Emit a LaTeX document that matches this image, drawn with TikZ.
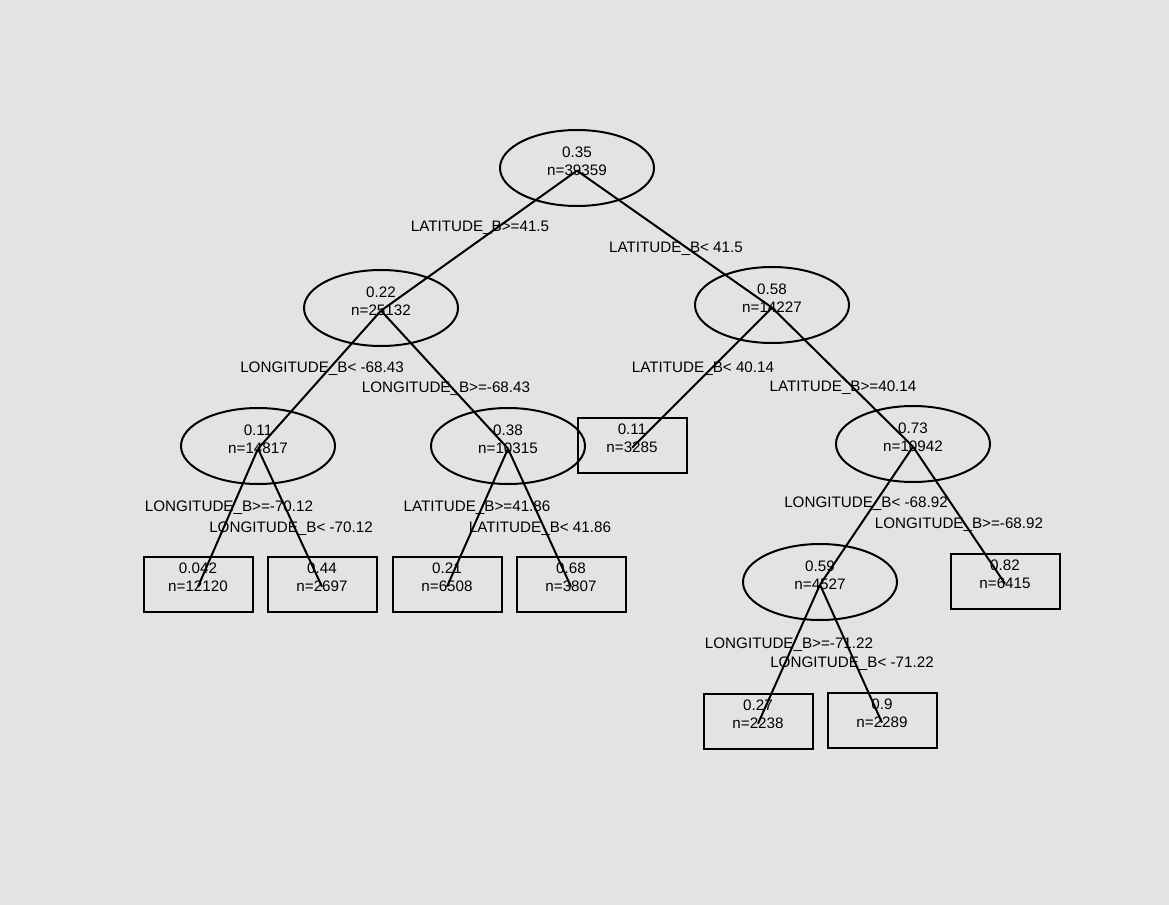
\documentclass[tikz,border=0pt]{standalone}
\usepackage{fontspec}
\setmainfont{Liberation Sans}
\usetikzlibrary{shapes.geometric}
\begin{document}
\begin{tikzpicture}[x=0.75pt,y=-0.75pt,
  every node/.style={font=\fontsize{11.4}{13.5}\selectfont},
  ell/.style={draw, ellipse, line width=1.5pt, minimum width=115.5pt, minimum height=57pt, inner sep=0pt},
  leaf/.style={draw, rectangle, line width=1.5pt, minimum width=81.75pt, minimum height=41.25pt, inner sep=0pt},
  txt/.style={align=center, inner sep=0pt},
  lab/.style={anchor=base, inner sep=0pt},
  edge/.style={line width=1.5pt}]
\useasboundingbox[fill=black!11] (0,0) rectangle (1169,905);
% shapes
\node[ell] (root) at (577,168) {};
\node[ell] (n22) at (381,308) {};
\node[ell] (n58) at (772,305) {};
\node[ell] (n11) at (258,446) {};
\node[ell] (n38) at (508,446) {};
\node[leaf] (b11) at (632,445) {};
\node[ell] (n73) at (913,444) {};
\node[leaf] (b042) at (198,584) {};
\node[leaf] (b44) at (322,584) {};
\node[leaf] (b21) at (447,584) {};
\node[leaf] (b68) at (571,584) {};
\node[ell] (n59) at (820,582) {};
\node[leaf] (b82) at (1005,581) {};
\node[leaf] (b27) at (758,721) {};
\node[leaf] (b9) at (882,720) {};
% texts
\node[txt] (troot) at ([yshift=5.25pt]root.center) {0.35\\n=39359};
\node[txt] (tn22) at ([yshift=5.25pt]n22.center) {0.22\\n=25132};
\node[txt] (tn58) at ([yshift=5.25pt]n58.center) {0.58\\n=14227};
\node[txt] (tn11) at ([yshift=5.25pt]n11.center) {0.11\\n=14817};
\node[txt] (tn38) at ([yshift=5.25pt]n38.center) {0.38\\n=10315};
\node[txt] (tb11) at ([yshift=5.25pt]b11.center) {0.11\\n=3285};
\node[txt] (tn73) at ([yshift=5.25pt]n73.center) {0.73\\n=10942};
\node[txt] (tb042) at ([yshift=5.25pt]b042.center) {0.042\\n=12120};
\node[txt] (tb44) at ([yshift=5.25pt]b44.center) {0.44\\n=2697};
\node[txt] (tb21) at ([yshift=5.25pt]b21.center) {0.21\\n=6508};
\node[txt] (tb68) at ([yshift=5.25pt]b68.center) {0.68\\n=3807};
\node[txt] (tn59) at ([yshift=5.25pt]n59.center) {0.59\\n=4527};
\node[txt] (tb82) at ([yshift=5.25pt]b82.center) {0.82\\n=6415};
\node[txt] (tb27) at ([yshift=5.25pt]b27.center) {0.27\\n=2238};
\node[txt] (tb9) at ([yshift=5.25pt]b9.center) {0.9\\n=2289};
% labels
\node[lab] (l1) at (480,232) {LATITUDE\_B>=41.5};
\node[lab] (l2) at (676,253) {LATITUDE\_B< 41.5};
\node[lab] (l3) at (322,372) {LONGITUDE\_B< -68.43};
\node[lab] (l4) at (446,392) {LONGITUDE\_B>=-68.43};
\node[lab] (l5) at (703,372) {LATITUDE\_B< 40.14};
\node[lab] (l6) at (843,391) {LATITUDE\_B>=40.14};
\node[lab] (l7) at (229,511) {LONGITUDE\_B>=-70.12};
\node[lab] (l8) at (291,532) {LONGITUDE\_B< -70.12};
\node[lab] (l9) at (477,511) {LATITUDE\_B>=41.86};
\node[lab] (l10) at (540,532) {LATITUDE\_B< 41.86};
\node[lab] (l11) at (866,507) {LONGITUDE\_B< -68.92};
\node[lab] (l12) at (959,528) {LONGITUDE\_B>=-68.92};
\node[lab] (l13) at (789,648) {LONGITUDE\_B>=-71.22};
\node[lab] (l14) at (852,667) {LONGITUDE\_B< -71.22};
% connectors
\draw[edge] ([yshift=-2pt]root.center) -- ([yshift=-2pt]n22.center);
\draw[edge] ([yshift=-2pt]root.center) -- ([yshift=-2pt]n58.center);
\draw[edge] ([yshift=-2pt]n22.center) -- ([yshift=-2pt]n11.center);
\draw[edge] ([yshift=-2pt]n22.center) -- ([yshift=-2pt]n38.center);
\draw[edge] ([yshift=-2pt]n58.center) -- ([yshift=-2pt]b11.center);
\draw[edge] ([yshift=-2pt]n58.center) -- ([yshift=-2pt]n73.center);
\draw[edge] ([yshift=-2pt]n11.center) -- ([yshift=-2pt]b042.center);
\draw[edge] ([yshift=-2pt]n11.center) -- ([yshift=-2pt]b44.center);
\draw[edge] ([yshift=-2pt]n38.center) -- ([yshift=-2pt]b21.center);
\draw[edge] ([yshift=-2pt]n38.center) -- ([yshift=-2pt]b68.center);
\draw[edge] ([yshift=-2pt]n73.center) -- ([yshift=-2pt]n59.center);
\draw[edge] ([yshift=-2pt]n73.center) -- ([yshift=-2pt]b82.center);
\draw[edge] ([yshift=-2pt]n59.center) -- ([yshift=-2pt]b27.center);
\draw[edge] ([yshift=-2pt]n59.center) -- ([yshift=-2pt]b9.center);
\end{tikzpicture}
\end{document}
